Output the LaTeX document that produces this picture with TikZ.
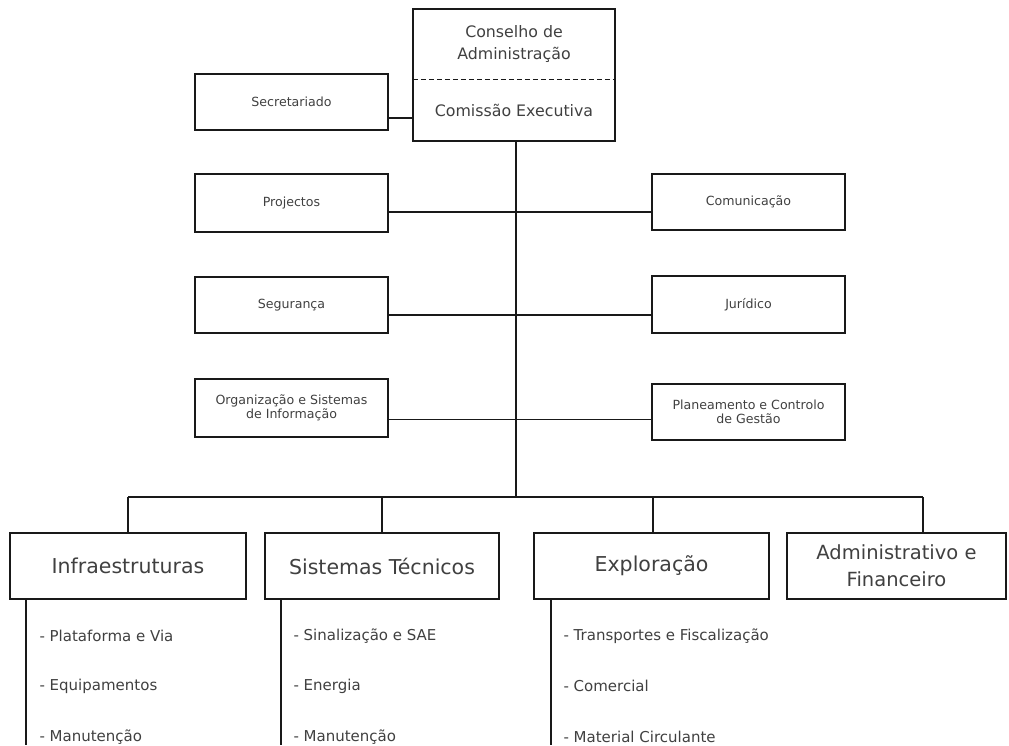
\documentclass[tikz,border=0pt]{standalone}
\usepackage{fontspec}
\setmainfont{DejaVu Sans}
\usepackage{tikz}
\usetikzlibrary{positioning}
\usepackage{xcolor}

\begin{document}
\begin{tikzpicture}[x=1pt, y=-1pt]
    % Define styles
    \tikzstyle{smallbox} = [rectangle, minimum width=193pt, minimum height=57pt, align=center, draw=black!90, line width=1.6pt, text=black!75, font=\fontsize{12.6}{14}\selectfont]
    \tikzstyle{unitbox} = [rectangle, minimum width=235pt, minimum height=66pt, align=center, draw=black!90, line width=1.6pt, text=black!75, font=\fontsize{20.5}{27}\selectfont]
    \tikzstyle{half} = [rectangle, minimum width=202pt, align=center, text=black!75, font=\fontsize{15.8}{22}\selectfont]
    \tikzstyle{item} = [anchor=west, text=black!75, font=\fontsize{15}{18}\selectfont]
    \tikzstyle{link} = [line width=1.5pt, draw=black!90]

    \useasboundingbox (0,0) rectangle (1009,745);
    \coordinate (foot) at (0,745);

    % Nodes
    \node (cons) [half, minimum height=70pt] at (514,44) {Conselho de\\Administração};
    \node (exec) [half, minimum height=62pt] at (514,110) {Comissão Executiva};
    \draw [line width=1.6pt, draw=black!90] (cons.north west) rectangle (exec.south east);
    \draw [dash pattern=on 5pt off 3pt, line width=1.4pt, draw=black!90] (cons.south west) -- (cons.south east);

    \node (secr) [smallbox, minimum height=56pt] at (291.5,102) {Secretariado};
    \node (proj) [smallbox, minimum height=58pt] at (291.5,203) {Projectos};
    \node (segu) [smallbox, minimum height=56pt] at (291.5,305) {Segurança};
    \node (orga) [smallbox, minimum height=58pt] at (291.5,408) {Organização e Sistemas\\de Informação};
    \node (comu) [smallbox, minimum height=56pt] at (748.5,202) {Comunicação};
    \node (juri) [smallbox] at (748.5,304.5) {Jurídico};
    \node (plan) [smallbox, minimum height=56pt] at (748.5,412) {Planeamento e Controlo\\de Gestão};

    \node (infr) [unitbox, minimum width=236pt] at (128,566) {Infraestruturas};
    \node (sist) [unitbox, minimum width=234pt] at (382,566) {Sistemas Técnicos};
    \node (expl) [unitbox] at (651.5,566) {Exploração};
    \node (admi) [unitbox, minimum width=219pt, font=\fontsize{19.5}{27}\selectfont] at (896.5,566) {Administrativo e\\Financeiro};

    \node (infr1) [item] at (36,636) {- Plataforma e Via};
    \node (infr2) [item] at (36,686) {- Equipamentos};
    \node (infr3) [item] at (36,737) {- Manutenção};
    \node (sist1) [item] at (290,636) {- Sinalização e SAE};
    \node (sist2) [item] at (290,686) {- Energia};
    \node (sist3) [item] at (290,737) {- Manutenção};
    \node (expl1) [item] at (560,636) {- Transportes e Fiscalização};
    \node (expl2) [item] at (560,686) {- Comercial};
    \node (expl3) [item] at (560,737) {- Material Circulante};

    \coordinate (busL) at (128,497);
    \coordinate (busR) at (923,497);

    % Lines
    \draw [link] ([yshift=-16pt]secr.east) -- ([yshift=-16pt]secr.east -| exec.west);
    \draw [link] ([yshift=-9pt]proj.east) -- ([yshift=-9pt]proj.east -| comu.west);
    \draw [link] ([yshift=-10pt]segu.east) -- ([yshift=-10pt]segu.east -| juri.west);
    \draw [link, line width=1pt] ([yshift=-11pt]orga.east) -- ([yshift=-11pt]orga.east -| plan.west);
    \draw [link, line width=1.6pt] ([xshift=2pt]exec.south) -- ([xshift=2pt]exec.south |- busL);
    \draw [link, line width=1.2pt] (busL) -- (busR);
    \draw [link] (busL) -- (infr.north);
    \draw [link] (busL -| sist.north) -- (sist.north);
    \draw [link] ([xshift=1.5pt]busL -| expl.north) -- ([xshift=1.5pt]expl.north);
    \draw [link] (busR) -- (busR |- admi.north);
    \draw [link] ([xshift=17pt]infr.south west) -- ([xshift=17pt]infr.south west |- foot);
    \draw [link] ([xshift=17pt]sist.south west) -- ([xshift=17pt]sist.south west |- foot);
    \draw [link] ([xshift=18pt]expl.south west) -- ([xshift=18pt]expl.south west |- foot);
\end{tikzpicture}
\end{document}
